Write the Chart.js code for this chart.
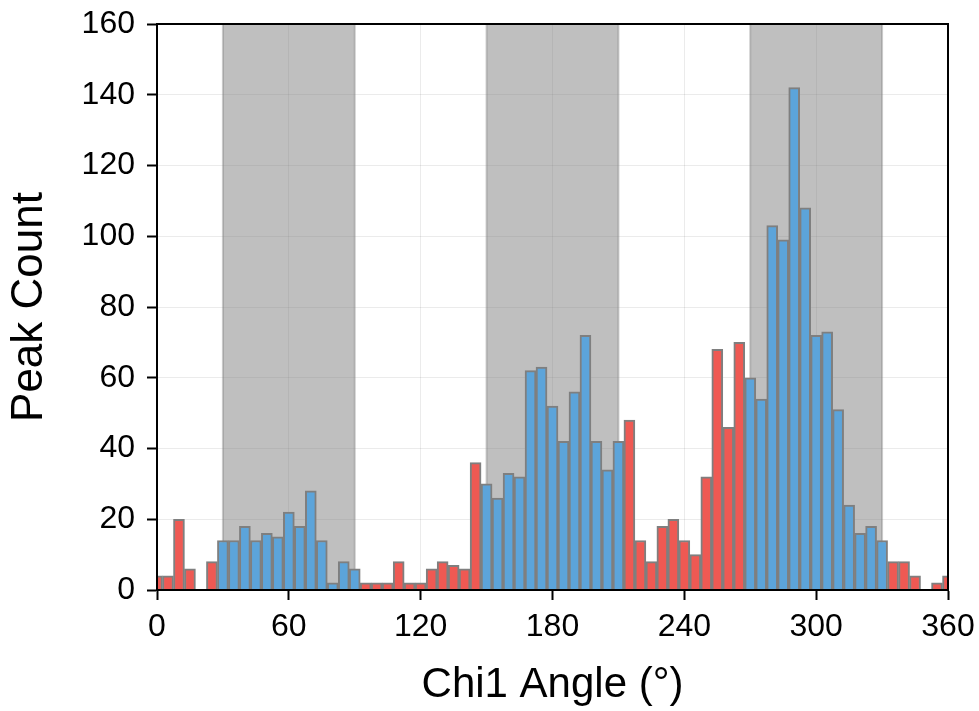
<!DOCTYPE html>
<html>
<head>
<meta charset="utf-8">
<script src="https://cdn.jsdelivr.net/npm/chart.js@4/dist/chart.umd.min.js"></script>
<style>
  html, body { margin: 0; padding: 0; background: #ffffff; }
  #wrap { width: 979px; height: 711px; position: relative; }
</style>
</head>
<body>
<div id="wrap"><canvas id="c" width="979" height="711"></canvas></div>
<script>
// Bin centres (degrees)
const binCenters = [0,5,10,15,20,25,30,35,40,45,50,55,60,65,70,75,80,85,90,95,100,105,110,115,120,125,130,135,140,145,150,155,160,165,170,175,180,185,190,195,200,205,210,215,220,225,230,235,240,245,250,255,260,265,270,275,280,285,290,295,300,305,310,315,320,325,330,335,340,345,350,355,360];
// Peak counts per bin
const peakCounts = [4,4,20,6,0,8,14,14,18,14,16,15,22,18,28,14,2,8,6,2,2,2,8,2,2,6,8,7,6,36,30,26,33,32,62,63,52,42,56,72,42,34,42,48,14,8,18,20,14,10,32,68,46,70,60,54,103,99,142,108,72,73,51,24,16,18,14,8,8,4,0,2,4];
// Shaded angle ranges
const bandStarts = [30, 150, 270];
const bandEnds = [90, 210, 330];
// Tick settings
const xTickStep = 60;
const yTickStep = 20;
const xMin = 0, xMax = 360, yMin = 0, yMax = 160;

const inBand = (v) => bandStarts.some((s, i) => v >= s && v <= bandEnds[i]);
const BLUE = '#5CA4DA';
const RED = '#EF5953';

const points = binCenters.map((x, i) => ({ x: x, y: peakCounts[i] }));

const bandPlugin = {
  id: 'bands',
  beforeDatasetsDraw(chart) {
    const { ctx, chartArea, scales } = chart;
    ctx.save();
    bandStarts.forEach((s, i) => {
      const x1 = scales.x.getPixelForValue(s);
      const x2 = scales.x.getPixelForValue(bandEnds[i]);
      ctx.fillStyle = 'rgba(128,128,128,0.5)';
      ctx.fillRect(x1, chartArea.top, x2 - x1, chartArea.bottom - chartArea.top);
      ctx.strokeStyle = 'rgba(128,128,128,0.4)';
      ctx.lineWidth = 2;
      ctx.beginPath();
      ctx.moveTo(x1, chartArea.top); ctx.lineTo(x1, chartArea.bottom);
      ctx.moveTo(x2, chartArea.top); ctx.lineTo(x2, chartArea.bottom);
      ctx.stroke();
    });
    ctx.restore();
  },
  afterDatasetsDraw(chart) {
    const { ctx, chartArea } = chart;
    ctx.save();
    ctx.strokeStyle = '#000';
    ctx.lineWidth = 2;
    ctx.strokeRect(chartArea.left, chartArea.top, chartArea.right - chartArea.left, chartArea.bottom - chartArea.top);
    ctx.restore();
  }
};

const FONT = "'Liberation Sans', Arial, sans-serif";

new Chart(document.getElementById('c'), {
  type: 'bar',
  data: {
    datasets: [{
      data: points,
      backgroundColor: (c) => inBand(binCenters[c.dataIndex]) ? BLUE : RED,
      borderColor: '#7F7F7F',
      borderWidth: 2,
      borderSkipped: 'start',
      barPercentage: 1,
      categoryPercentage: 1,
      clip: 0
    }]
  },
  options: {
    responsive: false,
    animation: false,
    devicePixelRatio: 1,
    layout: { padding: { top: 24, right: 31, left: 0, bottom: 0 } },
    plugins: { legend: { display: false }, tooltip: { enabled: false } },
    scales: {
      x: {
        type: 'linear',
        min: xMin, max: xMax,
        offset: false,
        afterFit: (s) => { s.height = 121; s.paddingLeft = 0; s.paddingRight = 0; },
        ticks: { stepSize: xTickStep, color: '#000', font: { family: FONT, size: 32 }, padding: 8, maxRotation: 0 },
        grid: { offset: false, color: 'rgba(0,0,0,0.08)', lineWidth: 1, tickColor: '#000', tickWidth: 2, tickLength: 10 },
        border: { color: '#000', width: 2 },
        title: { display: true, text: 'Chi1 Angle (°)', color: '#000', font: { family: FONT, size: 42 }, padding: { top: 8, bottom: 0 } }
      },
      y: {
        min: yMin, max: yMax,
        afterFit: (s) => { s.width = 157; s.paddingTop = 0; s.paddingBottom = 0; },
        ticks: { stepSize: yTickStep, color: '#000', font: { family: FONT, size: 32 }, padding: 12 },
        grid: { color: 'rgba(0,0,0,0.08)', lineWidth: 1, tickColor: '#000', tickWidth: 2, tickLength: 10 },
        border: { color: '#000', width: 2 },
        title: { display: true, text: 'Peak Count', color: '#000', font: { family: FONT, size: 44 }, padding: { top: 3, bottom: 8 } }
      }
    }
  },
  plugins: [bandPlugin]
});
</script>
</body>
</html>
